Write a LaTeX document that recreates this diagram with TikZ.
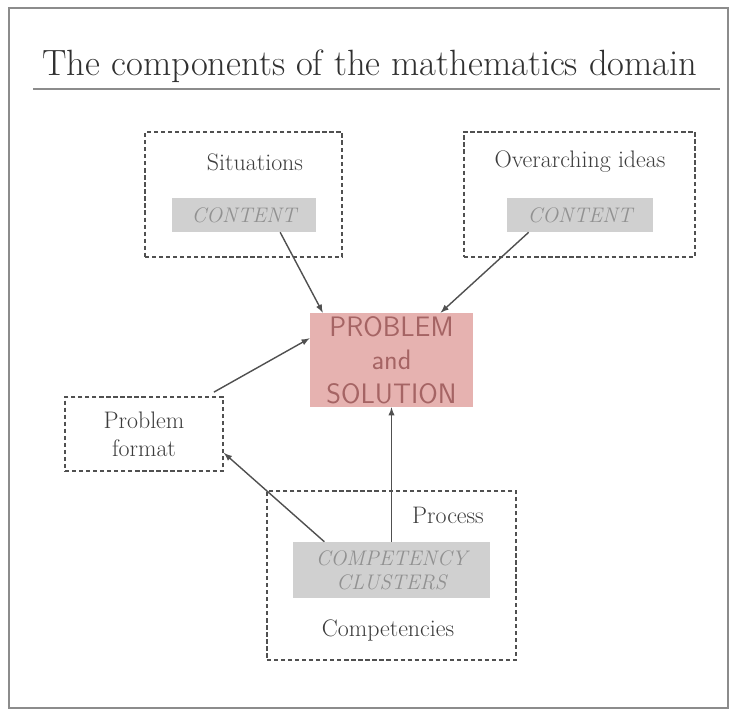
\documentclass[tikz,border=0pt]{standalone}
\usepackage{tikz}
\usetikzlibrary{positioning,arrows,calc,shapes}
\definecolor{FrameGray}{RGB}{140,140,140}
\definecolor{DashGray}{RGB}{80,80,80}
\definecolor{TextGray}{RGB}{60,60,60}
\definecolor{BoxGray}{RGB}{208,208,208}
\definecolor{BoxText}{RGB}{145,145,145}
\definecolor{ProbPink}{RGB}{230,178,176}
\definecolor{ProbText}{RGB}{165,100,100}

\begin{document}
\begin{tikzpicture}[x=0.025cm,y=-0.025cm,
	dashbox/.style={rectangle,draw=DashGray,densely dashed,line width=1.2pt,inner sep=0pt},
	greybox/.style={rectangle,fill=BoxGray,inner sep=0pt,text=BoxText,font=\fontsize{15}{17}\selectfont\itshape,align=center},
	lbl/.style={text=TextGray,font=\fontsize{17}{20}\selectfont,align=center},
	arr/.style={-latex,draw=DashGray,line width=1pt}]
			\useasboundingbox (0,0) rectangle (738,715);
			\draw [FrameGray,line width=1.2pt] (9,8) rectangle (728,708);
			\node [lbl,font=\fontsize{26}{30}\selectfont,text=TextGray!80!black,name = title] at (370,66) {The components of the mathematics domain};
			\draw [FrameGray,line width=1.2pt] (33,89) -- (720,89);
			% content boxes
			\node [dashbox,minimum width=4.925cm,minimum height=3.125cm,name = sit] at (243.5,194.5) {};
			\node [lbl,name = sitlbl] at (255,162) {Situations};
			\node [greybox,minimum width=3.6cm,minimum height=0.85cm,name = cont1] at (244,215) {CONTENT};
			\node [dashbox,minimum width=5.775cm,minimum height=3.125cm,name = over] at (579.5,194.5) {};
			\node [lbl,name = overlbl] at (580,162) {Overarching ideas};
			\node [greybox,minimum width=3.65cm,minimum height=0.85cm,name = cont2] at (580,215) {CONTENT};
			% centre
			\node [rectangle,fill=ProbPink,minimum width=4.075cm,minimum height=2.35cm,inner sep=0pt,
			text=ProbText,font=\fontsize{20}{24}\selectfont\sffamily,align=center,name = prob] at (391.5,360) {PROBLEM\\and\\SOLUTION};
			\node [dashbox,minimum width=3.95cm,minimum height=1.85cm,lbl,name = fmt] at (144,434) {Problem\\format};
			% competencies
			\node [dashbox,minimum width=6.225cm,minimum height=4.225cm,name = comp] at (391.5,575.5) {};
			\node [lbl,name = proc] at (448,515) {Process};
			\node [greybox,minimum width=4.925cm,minimum height=1.4cm,name = clus] at (391.5,570) {COMPETENCY\\CLUSTERS};
			\node [lbl,name = complbl] at (388,630) {Competencies};
			% arrows
			\draw [arr] ($(cont1.south)!0.5!(cont1.south east)$) -- ($(prob.north west)!0.08!(prob.north east)$);
			\draw [arr] ($(cont2.south west)!0.15!(cont2.south east)$) -- ($(prob.north west)!0.8!(prob.north east)$);
			\draw [arr] ($(fmt.north east)+(-10,-4)$) -- ($(prob.north west)!0.27!(prob.south west)$);
			\draw [arr] (clus.north) -- (prob.south);
			\draw [arr] ($(clus.north west)!0.16!(clus.north east)$) -- ($(fmt.north east)!0.75!(fmt.south east)$);
		\end{tikzpicture}
\end{document}
